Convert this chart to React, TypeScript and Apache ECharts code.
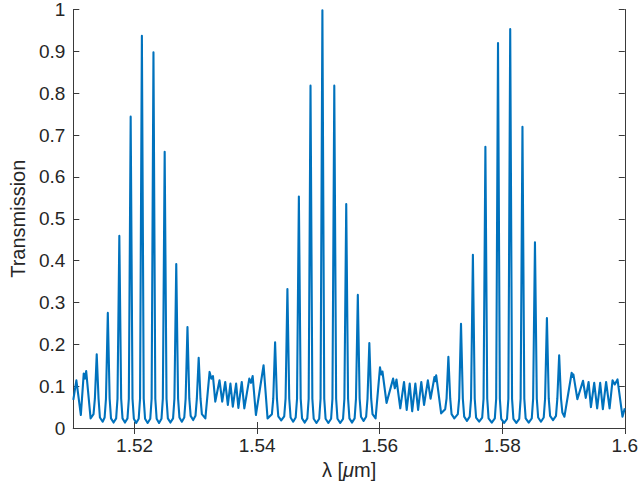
import React, { useEffect, useRef } from "react";
import * as echarts from "echarts";

// Transmission maxima (µm, value), including small double tips
const peakX = [1.5105, 1.5117, 1.5121, 1.51382, 1.51563, 1.51751, 1.51936, 1.52119, 1.52308, 1.52491, 1.5268, 1.52863, 1.53046, 1.53224, 1.53279, 1.53386, 1.53479, 1.53564, 1.53657, 1.53749, 1.53872, 1.53927, 1.54105, 1.54293, 1.54494, 1.54681, 1.54871, 1.55065, 1.55259, 1.55454, 1.55643, 1.55831, 1.56005, 1.56045, 1.56219, 1.56274, 1.56397, 1.5649, 1.56582, 1.56679, 1.56786, 1.56894, 1.56922, 1.57121, 1.57327, 1.57521, 1.57725, 1.57931, 1.5813, 1.5833, 1.58534, 1.58729, 1.58929, 1.59133, 1.59161, 1.59318, 1.59409, 1.59501, 1.59598, 1.59695, 1.598, 1.59881];
const peakY = [0.114, 0.13, 0.136, 0.176, 0.275, 0.459, 0.744, 0.937, 0.898, 0.66, 0.392, 0.241, 0.168, 0.134, 0.124, 0.114, 0.11, 0.106, 0.106, 0.11, 0.118, 0.124, 0.15, 0.205, 0.332, 0.553, 0.818, 0.998, 0.818, 0.535, 0.318, 0.203, 0.145, 0.135, 0.118, 0.116, 0.11, 0.106, 0.106, 0.11, 0.114, 0.122, 0.126, 0.17, 0.249, 0.414, 0.672, 0.92, 0.953, 0.72, 0.444, 0.263, 0.174, 0.132, 0.128, 0.113, 0.11, 0.108, 0.108, 0.11, 0.114, 0.116];

// Transmission minima (µm, value), including the shallow dips between double tips
const valleyX = [1.51123, 1.5119, 1.51282, 1.51479, 1.51657, 1.51843, 1.52026, 1.52213, 1.52399, 1.52585, 1.52771, 1.52956, 1.53155, 1.53252, 1.53317, 1.5343, 1.53522, 1.53603, 1.53694, 1.53791, 1.539, 1.5398, 1.5417, 1.54393, 1.54588, 1.54777, 1.54968, 1.55162, 1.55356, 1.55547, 1.55737, 1.55933, 1.56025, 1.56112, 1.56247, 1.56336, 1.56441, 1.5653, 1.56627, 1.56724, 1.5683, 1.56908, 1.57003, 1.57218, 1.57424, 1.57623, 1.57829, 1.58031, 1.5823, 1.58432, 1.58632, 1.58829, 1.59015, 1.59147, 1.59226, 1.59363, 1.59447, 1.59549, 1.59642, 1.59752, 1.59836, 1.59962];
const valleyY = [0.031, 0.118, 0.023, 0.015, 0.013, 0.013, 0.012, 0.012, 0.012, 0.013, 0.015, 0.019, 0.023, 0.118, 0.063, 0.063, 0.055, 0.051, 0.048, 0.047, 0.108, 0.031, 0.023, 0.018, 0.015, 0.013, 0.012, 0.012, 0.012, 0.013, 0.017, 0.023, 0.128, 0.06, 0.095, 0.047, 0.043, 0.04, 0.043, 0.055, 0.07, 0.112, 0.035, 0.023, 0.017, 0.015, 0.013, 0.012, 0.012, 0.013, 0.015, 0.019, 0.027, 0.122, 0.069, 0.072, 0.05, 0.047, 0.045, 0.047, 0.104, 0.027];

// Curve ends at the axis limits
const edgeX = [1.51, 1.6];
const edgeY = [0.067, 0.047];

const xTickValues = [1.52, 1.54, 1.56, 1.58, 1.6];
const xMin = 1.51;
const xMax = 1.6;
const yMin = 0;
const yMax = 1;
const yStep = 0.1;

// line-shape settings for the narrow resonances (feet of each tall peak)
const FOOT_NEAR = 0.0003;
const FOOT_FAR = 0.00052;
const FOOT_LEVEL = 0.07;
const TALL = 0.16;

type Pt = { x: number; y: number; k: "p" | "v" };

function buildLine(): [number, number][] {
  const pts: Pt[] = [];
  peakX.forEach((x, i) => pts.push({ x, y: peakY[i], k: "p" }));
  valleyX.forEach((x, i) => pts.push({ x, y: valleyY[i], k: "v" }));
  edgeX.forEach((x, i) => pts.push({ x, y: edgeY[i], k: "v" }));
  pts.sort((a, b) => a.x - b.x);
  const out: [number, number][] = [];
  for (let i = 0; i < pts.length; i++) {
    const p = pts[i];
    if (p.k === "p" && p.y > TALL) {
      const prev = pts[i - 1];
      const next = pts[i + 1];
      if (prev) {
        const d = p.x - prev.x;
        if (d > FOOT_FAR + 0.0001) out.push([p.x - FOOT_FAR, prev.y + 0.01]);
        if (d > FOOT_NEAR + 0.0001) out.push([p.x - FOOT_NEAR, Math.max(FOOT_LEVEL, prev.y + 0.02)]);
      }
      out.push([p.x, p.y]);
      if (next) {
        const d = next.x - p.x;
        if (d > FOOT_NEAR + 0.0001) out.push([p.x + FOOT_NEAR, Math.max(FOOT_LEVEL, next.y + 0.02)]);
        if (d > FOOT_FAR + 0.0001) out.push([p.x + FOOT_FAR, next.y + 0.01]);
      }
    } else {
      out.push([p.x, p.y]);
    }
  }
  return out;
}

const FONT = "'Liberation Sans', Arial, Helvetica, sans-serif";
const TXT = "#262626";
const AX = "#3a3a3a";

export default function App() {
  const ref = useRef<HTMLDivElement>(null);
  useEffect(() => {
    if (!ref.current) return;
    const chart = echarts.init(ref.current, null, { renderer: "svg" });
    const axisLine = { show: true, lineStyle: { color: AX, width: 1 } };
    chart.setOption({
      animation: false,
      backgroundColor: "#ffffff",
      textStyle: { fontFamily: FONT },
      grid: { left: 71, right: 14, top: 8, bottom: 58, containLabel: false },
      xAxis: [
        {
          type: "value",
          min: xMin,
          max: xMax,
          position: "bottom",
          axisLine,
          splitLine: { show: false },
          axisTick: { show: true, inside: true, length: 6, customValues: xTickValues, lineStyle: { color: AX } },
          axisLabel: {
            show: true,
            customValues: xTickValues,
            color: TXT,
            fontSize: 19,
            fontFamily: FONT,
            margin: 8,
            showMinLabel: true,
            showMaxLabel: true,
          },
          name: "λ [{i|μ}m]",
          nameLocation: "middle",
          nameGap: 27,
          nameTextStyle: {
            color: TXT,
            fontSize: 20,
            fontFamily: FONT,
            rich: { i: { fontStyle: "italic", fontSize: 20, color: TXT, fontFamily: FONT } },
          },
        },
        {
          type: "value",
          min: xMin,
          max: xMax,
          position: "top",
          axisLine,
          splitLine: { show: false },
          axisTick: { show: true, inside: true, length: 6, customValues: xTickValues, lineStyle: { color: AX } },
          axisLabel: { show: false },
        },
      ],
      yAxis: [
        {
          type: "value",
          min: yMin,
          max: yMax,
          interval: yStep,
          position: "left",
          axisLine,
          splitLine: { show: false },
          axisTick: { show: true, inside: true, length: 6, lineStyle: { color: AX } },
          axisLabel: { color: TXT, fontSize: 19, fontFamily: FONT, margin: 8 },
          name: "Transmission",
          nameLocation: "middle",
          nameGap: 40,
          nameTextStyle: { color: TXT, fontSize: 20, fontFamily: FONT },
        },
        {
          type: "value",
          min: yMin,
          max: yMax,
          interval: yStep,
          position: "right",
          axisLine,
          splitLine: { show: false },
          axisTick: { show: true, inside: true, length: 6, lineStyle: { color: AX } },
          axisLabel: { show: false },
        },
      ],
      series: [
        {
          type: "line",
          xAxisIndex: 0,
          yAxisIndex: 0,
          data: buildLine(),
          showSymbol: false,
          symbol: "none",
          smooth: false,
          clip: true,
          lineStyle: { color: "#0072BD", width: 2.1, join: "round" },
        },
      ],
    });
    return () => chart.dispose();
  }, []);
  return (
    <div
      ref={ref}
      style={{ position: "absolute", left: 0, top: 0, width: 641, height: 486, background: "#fff" }}
    />
  );
}
